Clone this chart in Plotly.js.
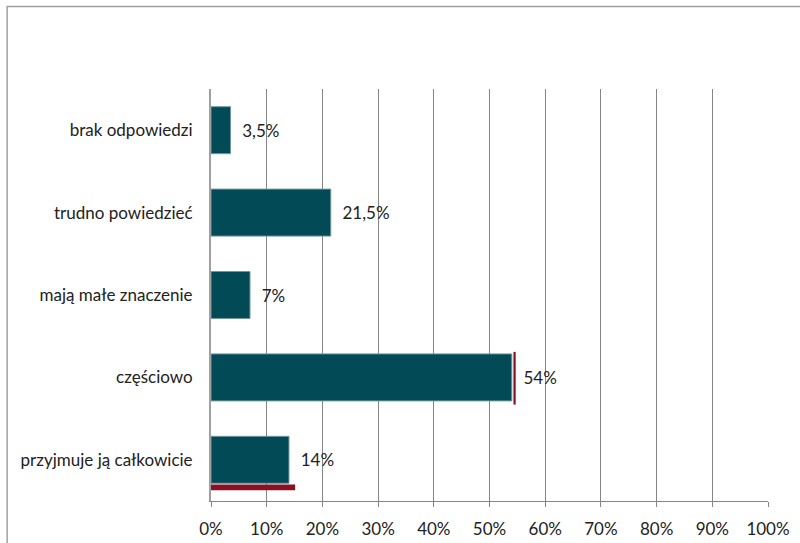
<!DOCTYPE html>
<html><head><meta charset="utf-8">
<script src="https://cdn.plot.ly/plotly-3.0.1.min.js"></script>
<style>html,body{margin:0;padding:0;background:#fff}#c{width:800px;height:543px}</style>
</head><body><div id="c"></div>
<script>
const categories = ["przyjmuje ją całkowicie", "częściowo", "mają małe znaczenie", "trudno powiedzieć", "brak odpowiedzi"];
const values = [14, 54, 7, 21.5, 3.5];
const xTicks = [0, 10, 20, 30, 40, 50, 60, 70, 80, 90, 100];
const xTickLabels = xTicks.map(v => v + "%");
const labels = values.map(v => "\u00a0\u00a0" + String(v).replace(".", ",") + "%");

const FONT = "Lato, Carlito, sans-serif";

const trace = {
  type: "bar", orientation: "h",
  y: categories, x: values,
  text: labels, textposition: "outside", cliponaxis: false,
  textfont: {family: FONT, size: 17, color: "#222"},
  marker: {color: "#024a56", line: {color: "#6f979e", width: 1}},
  width: 0.57, hoverinfo: "none"
};

// red shadow artefacts of the original 3D bars
const shapes = [
  {type: "rect", xref: "paper", yref: "paper", x0: -0.366, x1: 1.2, y0: -0.12, y1: 1.2,
   line: {color: "#a0a0a0", width: 1.5}, fillcolor: "rgba(0,0,0,0)", layer: "below"},
  {type: "rect", xref: "x", yref: "y", x0: values[1] + 0.3, x1: values[1] + 0.7, y0: 1 - 0.33, y1: 1 + 0.31,
   line: {width: 0}, fillcolor: "#8b1022"},
  {type: "rect", xref: "x", yref: "y", x0: 0, x1: values[0] + 1.1, y0: 0 - 0.37, y1: 0 - 0.30,
   line: {width: 0}, fillcolor: "#8b1022"}
];

const layout = {
  width: 800, height: 543,
  margin: {l: 211, r: 32, t: 89, b: 42},
  paper_bgcolor: "#fff", plot_bgcolor: "#fff",
  showlegend: false,
  separators: ", ",
  shapes: shapes,
  xaxis: {
    range: [0, 100], tickvals: xTicks, ticktext: xTickLabels,
    showgrid: true, gridcolor: "#858585", gridwidth: 1,
    showline: true, linecolor: "#858585", linewidth: 1,
    ticks: "outside", ticklen: 5, tickcolor: "#858585",
    ticklabelstandoff: 8,
    tickfont: {family: FONT, size: 17, color: "#222"},
    zeroline: false, fixedrange: true
  },
  yaxis: {
    showline: true, linecolor: "#a0a0a0", linewidth: 2,
    ticks: "", ticklabelstandoff: 13,
    tickfont: {family: FONT, size: 17, color: "#222"},
    showgrid: false, fixedrange: true
  }
};
Plotly.newPlot("c", [trace], layout, {staticPlot: true, displayModeBar: false});
</script></body></html>
